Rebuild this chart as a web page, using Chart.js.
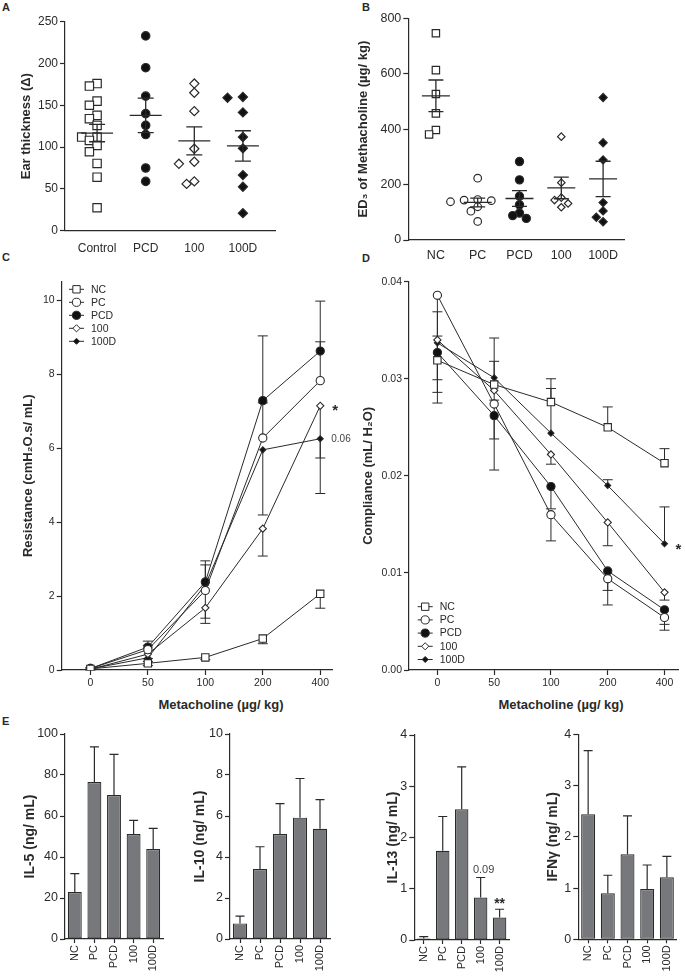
<!DOCTYPE html>
<html>
<head>
<meta charset="utf-8">
<script src="https://cdn.jsdelivr.net/npm/chart.js@4.4.1/dist/chart.umd.min.js"></script>
<style>
  body { margin: 0; background: #fff; width: 685px; height: 979px; position: relative; overflow: hidden; font-family: "Liberation Sans", Arial, sans-serif; }
  canvas { position: absolute; }
  .panel { position: absolute; font-weight: bold; font-size: 11px; line-height: 11px; color: #2a2a2a; }
  .xtitle { position: absolute; font-weight: bold; font-size: 13px; line-height: 13px; color: #2a2a2a; transform: translate(-50%, -50%); white-space: nowrap; }
</style>
</head>
<body>
<div class="panel" style="left:2px;top:2px">A</div>
<div class="panel" style="left:362px;top:2px">B</div>
<div class="panel" style="left:2px;top:252px">C</div>
<div class="panel" style="left:362px;top:253px">D</div>
<div class="panel" style="left:2px;top:716px">E</div>
<div class="xtitle" style="left:221px;top:704px">Metacholine (µg/ kg)</div>
<div class="xtitle" style="left:561px;top:704px">Metacholine (µg/ kg)</div>

<canvas id="chartA"></canvas>
<canvas id="chartB"></canvas>
<canvas id="chartC"></canvas>
<canvas id="chartD"></canvas>
<canvas id="chartE1"></canvas>
<canvas id="chartE2"></canvas>
<canvas id="chartE3"></canvas>
<canvas id="chartE4"></canvas>

<script>
// ---- data ----

// A: ear thickness, individual animals
const earGroups = ['Control', 'PCD', '100', '100D'];
const earControl = [176, 173, 155, 150, 138, 134, 126, 112, 112, 108, 102, 94.5, 80.5, 64, 27.5];
const earPCD = [233, 195, 161, 140, 126, 115, 75, 59];
const ear100 = [176, 165, 143, 98, 82.5, 80, 59, 56];
const ear100D = [160, 159, 141.5, 112, 98.5, 66.5, 52.5, 21];

// B: ED3 of metacholine
const edGroups = ['NC', 'PC', 'PCD', '100', '100D'];
const edNC = [746, 613, 527, 457, 397, 381];
const edPC = [223, 146, 144, 142, 138, 120, 104, 67];
const edPCD = [283, 217, 158, 127, 97, 88, 78];
const ed100 = [373, 207, 153, 144, 132, 118];
const ed100D = [514, 351, 289, 135, 105, 82, 66];

// C / D: metacholine dose response
const doses = ['0', '50', '100', '200', '400'];
const seriesNames = ['NC', 'PC', 'PCD', '100', '100D'];

const resNC = [0.03, 0.18, 0.34, 0.85, 2.06];
const resPC = [0.04, 0.55, 2.15, 6.27, 7.82];
const resPCD = [0.04, 0.62, 2.38, 7.28, 8.62];
const res100 = [0.02, 0.43, 1.68, 3.82, 7.14];
const res100D = [0.03, 0.33, 2.30, 5.95, 6.25];
const resNCErr = [0.02, 0.06, 0.06, 0.14, 0.39];
const resPCErr = [0.02, 0.12, 0.69, 0.95, 1.05];
const resPCDErr = [0.02, 0.16, 0.57, 1.75, 1.35];
const res100Err = [0.02, 0.12, 0.42, 0.74, 1.41];
const res100DErr = [0.02, 0.10, 0.90, 1.76, 1.48];

const compNC = [0.0319, 0.0294, 0.0276, 0.0250, 0.0213];
const compPC = [0.0386, 0.0274, 0.0160, 0.0094, 0.0054];
const compPCD = [0.0327, 0.0262, 0.0189, 0.0102, 0.0062];
const comp100 = [0.0340, 0.0288, 0.0222, 0.0152, 0.0080];
const comp100D = [0.0337, 0.0301, 0.0244, 0.0190, 0.0130];
const compNCErr = [0.0050, 0.0024, 0.0024, 0.0021, 0.0015];
const compPCErr = [0.0111, 0.0068, 0.0027, 0.0027, 0.0013];
const compPCDErr = [0.0028, 0.0024, 0.0023, 0.0020, 0.0015];
const comp100Err = [0.0054, 0.0010, 0.0010, 0.0024, 0.0008];
const comp100DErr = [0.0007, 0.0041, 0.0046, 0.0006, 0.0038];

// E: cytokines
const cytoGroups = ['NC', 'PC', 'PCD', '100', '100D'];
const il5 = [22.9, 76.6, 70.2, 51.2, 43.9];
const il5Err = [9.0, 17.1, 19.9, 6.7, 10.1];
const il10 = [0.76, 3.41, 5.12, 5.92, 5.38];
const il10Err = [0.36, 1.09, 1.48, 1.91, 1.42];
const il13 = [0.03, 1.74, 2.55, 0.83, 0.44];
const il13Err = [0.035, 0.67, 0.83, 0.39, 0.16];
const ifng = [2.44, 0.90, 1.66, 0.98, 1.21];
const ifngErr = [1.24, 0.35, 0.75, 0.47, 0.41];

// ---- styling helpers ----
const INK = '#2a2a2a';
const FONT = '"Liberation Sans", Arial, Helvetica, sans-serif';
const BAR_FILL = '#77787c';

// marker look for the 5 treatment groups (NC, PC, PCD, 100, 100D)
const markStyle = ['rect', 'circle', 'circle', 'rectRot', 'rectRot'];
const markFill = ['#fff', '#fff', '#111', '#fff', '#111'];

function place(id, left, top, w, h) {
    const c = document.getElementById(id);
    c.width = w;
    c.height = h;
    c.style.left = left + 'px';
    c.style.top = top + 'px';
    c.style.width = w + 'px';
    c.style.height = h + 'px';
    return c;
}

function yScale(o) {
    return {
        type: 'linear', position: 'left', min: o.min, max: o.max,
        afterBuildTicks: s => {
            const t = [];
            for (let k = 0; o.min + k * o.step <= o.tickMax + 1e-9; k++) t.push({ value: o.min + k * o.step });
            s.ticks = t;
        },
        afterFit: s => { s.width = o.width; },
        ticks: {
            color: INK, padding: 2, font: { family: FONT, size: o.tick },
            callback: o.fmt || (v => String(Math.round(v * 1000) / 1000))
        },
        grid: { drawOnChartArea: false, drawTicks: true, tickLength: 5, tickColor: INK, tickWidth: 1.2 },
        border: { color: INK, width: 1.2 },
        title: {
            display: true, text: o.title, color: INK,
            font: { family: FONT, size: o.titleSize || 13, weight: 'bold' },
            padding: { top: o.titlePad, bottom: 0 }
        }
    };
}

function xIndexScale(o) {
    return {
        type: 'linear', position: 'bottom', min: o.min, max: o.max,
        afterBuildTicks: s => { s.ticks = o.labels.map((_, i) => ({ value: i })); },
        afterFit: s => { s.height = o.height; },
        ticks: {
            color: INK, padding: o.pad, maxRotation: 0, autoSkip: false,
            font: { family: FONT, size: o.tick },
            callback: v => o.labels[v]
        },
        grid: { drawOnChartArea: false, drawTicks: o.drawTicks, tickLength: 5, tickColor: INK, tickWidth: 1.2 },
        border: { color: INK, width: 1.2 }
    };
}

function xCatScale(o) {
    return {
        type: 'category', position: 'bottom', offset: true,
        afterFit: s => { s.height = o.height; },
        ticks: {
            color: INK, padding: 2, minRotation: 90, maxRotation: 90, autoSkip: false,
            font: { family: FONT, size: 11 }
        },
        grid: { offset: false, drawOnChartArea: false, drawTicks: true, tickLength: 4, tickColor: INK, tickWidth: 1.2 },
        border: { color: INK, width: 1.2 }
    };
}

function drawMarker(ctx, style, r, fill, x, y) {
    ctx.beginPath();
    if (style === 'circle') {
        ctx.arc(x, y, r, 0, Math.PI * 2);
    } else if (style === 'rect') {
        const s = r * Math.SQRT1_2;
        ctx.rect(x - s, y - s, 2 * s, 2 * s);
    } else {
        ctx.moveTo(x - r, y); ctx.lineTo(x, y - r); ctx.lineTo(x + r, y); ctx.lineTo(x, y + r); ctx.closePath();
    }
    ctx.fillStyle = fill;
    ctx.fill();
    ctx.stroke();
}

// mean +/- SEM drawn over the dots (A, B)
function meanSemPlugin(halfMean, halfCap) {
    return {
        id: 'meanSem',
        afterDatasetsDraw(chart) {
            const { ctx, scales: { x, y } } = chart;
            ctx.save();
            ctx.strokeStyle = INK;
            ctx.lineWidth = 1.3;
            chart.data.datasets.forEach((ds, g) => {
                const vals = ds.data.map(p => p.y);
                const n = vals.length;
                const m = vals.reduce((a, b) => a + b, 0) / n;
                const sd = Math.sqrt(vals.reduce((a, b) => a + (b - m) * (b - m), 0) / (n - 1));
                const sem = sd / Math.sqrt(n);
                const cx = x.getPixelForValue(g);
                const ym = y.getPixelForValue(m), y1 = y.getPixelForValue(m + sem), y0 = y.getPixelForValue(m - sem);
                ctx.beginPath();
                ctx.moveTo(cx - halfMean, ym); ctx.lineTo(cx + halfMean, ym);
                ctx.moveTo(cx, y1); ctx.lineTo(cx, y0);
                ctx.moveTo(cx - halfCap, y1); ctx.lineTo(cx + halfCap, y1);
                ctx.moveTo(cx - halfCap, y0); ctx.lineTo(cx + halfCap, y0);
                ctx.stroke();
            });
            ctx.restore();
        }
    };
}

// one-sided SEM bars on the dose-response curves
function lineErrPlugin(errs, dirs) {
    return {
        id: 'lineErr',
        beforeDatasetsDraw(chart) {
            const { ctx, scales: { y } } = chart;
            ctx.save();
            ctx.strokeStyle = INK;
            ctx.lineWidth = 1;
            chart.data.datasets.forEach((ds, i) => {
                chart.getDatasetMeta(i).data.forEach((pt, j) => {
                    const ye = y.getPixelForValue(ds.data[j].y + dirs[i] * errs[i][j]);
                    ctx.beginPath();
                    ctx.moveTo(pt.x, pt.y); ctx.lineTo(pt.x, ye);
                    ctx.moveTo(pt.x - 5, ye); ctx.lineTo(pt.x + 5, ye);
                    ctx.stroke();
                });
            });
            ctx.restore();
        }
    };
}

function barErrPlugin(errs) {
    return {
        id: 'barErr',
        afterDatasetsDraw(chart) {
            const { ctx, scales: { y } } = chart;
            const ds = chart.data.datasets[0];
            ctx.save();
            ctx.strokeStyle = INK;
            ctx.lineWidth = 1.2;
            chart.getDatasetMeta(0).data.forEach((bar, i) => {
                const top = y.getPixelForValue(ds.data[i]);
                const end = y.getPixelForValue(ds.data[i] + errs[i]);
                ctx.beginPath();
                ctx.moveTo(bar.x, top); ctx.lineTo(bar.x, end);
                ctx.moveTo(bar.x - 4.5, end); ctx.lineTo(bar.x + 4.5, end);
                ctx.stroke();
            });
            ctx.restore();
        }
    };
}

// small legend inside the plot (C, D)
function legendPlugin(x0, y0, gap) {
    return {
        id: 'innerLegend',
        afterDraw(chart) {
            const ctx = chart.ctx;
            ctx.save();
            ctx.strokeStyle = INK;
            ctx.lineWidth = 1;
            ctx.font = '10.5px ' + FONT;
            ctx.textBaseline = 'middle';
            chart.data.datasets.forEach((ds, i) => {
                const y = y0 + i * gap;
                ctx.beginPath();
                ctx.moveTo(x0, y); ctx.lineTo(x0 + 15, y);
                ctx.stroke();
                drawMarker(ctx, ds.pointStyle, ds.pointRadius, ds.pointBackgroundColor, x0 + 7.5, y);
                ctx.fillStyle = INK;
                ctx.fillText(ds.label, x0 + 22, y + 0.5);
            });
            ctx.restore();
        }
    };
}

// significance notes anchored to data values
function notesPlugin(notes) {
    return {
        id: 'notes',
        afterDatasetsDraw(chart) {
            const { ctx, scales: { x, y } } = chart;
            ctx.save();
            notes.forEach(n => {
                ctx.font = n.font;
                ctx.fillStyle = n.color || INK;
                ctx.textAlign = n.align || 'center';
                ctx.textBaseline = n.base || 'alphabetic';
                ctx.fillText(n.text, x.getPixelForValue(n.x) + (n.dx || 0), y.getPixelForValue(n.y) + (n.dy || 0));
            });
            ctx.restore();
        }
    };
}

// spread overlapping dots sideways, using the chart's own scales
function swarm(chart, minDist, step) {
    const xs = chart.scales.x, ys = chart.scales.y;
    chart.data.datasets.forEach((ds, g) => {
        const cx = xs.getPixelForValue(g);
        const placed = [];
        const order = ds.data.map((p, i) => i).sort((a, b) => ds.data[b].y - ds.data[a].y);
        order.forEach(i => {
            const p = ds.data[i];
            const py = ys.getPixelForValue(p.y);
            const cands = [0];
            for (let k = 1; k < 8; k++) cands.push(-k * step, k * step);
            let off = 0;
            for (const c of cands) {
                if (placed.every(q => Math.hypot(q.x - (cx + c), q.y - py) >= minDist)) { off = c; break; }
            }
            placed.push({ x: cx + off, y: py });
            p.x = xs.getValueForPixel(cx + off);
        });
    });
    chart.update('none');
}

const baseOptions = (padding) => ({
    responsive: false,
    animation: false,
    devicePixelRatio: 1,
    layout: { padding },
    plugins: { legend: { display: false }, tooltip: { enabled: false } }
});

// ---- A ----
const earSets = [earControl, earPCD, ear100, ear100D];
const earMarks = [[0, 5.9], [2, 4.2], [3, 4.6], [4, 4.6]];
const chartA = new Chart(place('chartA', 0, 0, 290, 262), {
    type: 'scatter',
    data: {
        datasets: earSets.map((vals, g) => ({
            label: earGroups[g],
            data: vals.map(v => ({ x: g, y: v })),
            pointStyle: markStyle[earMarks[g][0]],
            pointRadius: earMarks[g][1],
            pointBackgroundColor: markFill[earMarks[g][0]],
            pointBorderColor: INK,
            pointBorderWidth: 1.2
        }))
    },
    options: {
        ...baseOptions({ left: 0, top: 21.7, right: 15, bottom: 0 }),
        scales: {
            x: xIndexScale({ min: -0.66, max: 3.66, labels: earGroups, height: 31.3, tick: 12, pad: 11, drawTicks: false }),
            y: yScale({ min: 0, max: 250, tickMax: 250, step: 50, width: 65, tick: 12, title: 'Ear thickness (Δ)', titlePad: 18.9 })
        }
    },
    plugins: [meanSemPlugin(16, 8)]
});
swarm(chartA, 8, 7.7);

// ---- B ----
const edSets = [edNC, edPC, edPCD, ed100, ed100D];
const edRadius = [5.2, 3.8, 4.1, 3.7, 4.1];
const chartB = new Chart(place('chartB', 340, 0, 345, 262), {
    type: 'scatter',
    data: {
        datasets: edSets.map((vals, g) => ({
            label: edGroups[g],
            data: vals.map(v => ({ x: g, y: v })),
            pointStyle: markStyle[g],
            pointRadius: edRadius[g],
            pointBackgroundColor: markFill[g],
            pointBorderColor: INK,
            pointBorderWidth: 1.2
        }))
    },
    options: {
        ...baseOptions({ left: 0, top: 18.3, right: 61, bottom: 0 }),
        scales: {
            x: xIndexScale({ min: -0.66, max: 4.5, labels: edGroups, height: 22, tick: 12.5, pad: 8, drawTicks: false }),
            y: yScale({ min: 0, max: 800, tickMax: 800, step: 200, width: 68.3, tick: 12.5, title: 'ED₃ of Methacholine (µg/ kg)', titlePad: 15.5 })
        }
    },
    plugins: [meanSemPlugin(14, 7.5)]
});
swarm(chartB, 7.2, 6.8);

// ---- C / D ----
const lineRadius = [5.2, 4.1, 4.1, 3.6, 3];
function lineSets(seriesVals) {
    return seriesVals.map((vals, i) => ({
        label: seriesNames[i],
        data: vals.map((v, j) => ({ x: j, y: v })),
        showLine: true,
        borderColor: INK,
        borderWidth: 1,
        pointStyle: markStyle[i],
        pointRadius: lineRadius[i],
        pointBackgroundColor: markFill[i],
        pointBorderColor: INK,
        pointBorderWidth: 1.1
    }));
}

new Chart(place('chartC', 0, 270, 360, 425), {
    type: 'scatter',
    data: { datasets: lineSets([resNC, resPC, resPCD, res100, res100D]) },
    options: {
        ...baseOptions({ left: 0, top: 11.5, right: 27.7, bottom: 0 }),
        scales: {
            x: xIndexScale({ min: -0.5, max: 4.21, labels: doses, height: 25, tick: 10.5, pad: 2, drawTicks: true }),
            y: yScale({ min: 0, max: 10.5, tickMax: 10, step: 2, width: 61.7, tick: 10.5, title: 'Resistance (cmH₂O.s/ mL)', titlePad: 20.5 })
        }
    },
    plugins: [
        lineErrPlugin([resNCErr, resPCErr, resPCDErr, res100Err, res100DErr], [-1, 1, 1, -1, -1]),
        legendPlugin(69, 19.3, 13),
        notesPlugin([
            { text: '*', x: 4, y: 7.14, dx: 15, dy: 9, font: 'bold 15px ' + FONT },
            { text: '0.06', x: 4, y: 6.25, dx: 11, dy: 0.5, align: 'left', base: 'middle', color: '#444', font: '10px ' + FONT }
        ])
    ]
});

new Chart(place('chartD', 340, 270, 345, 425), {
    type: 'scatter',
    data: { datasets: lineSets([compNC, compPC, compPCD, comp100, comp100D]) },
    options: {
        ...baseOptions({ left: 0, top: 11.7, right: 5, bottom: 0 }),
        scales: {
            x: xIndexScale({ min: -0.5, max: 4.25, labels: doses, height: 25, tick: 10.5, pad: 2, drawTicks: true }),
            y: yScale({ min: 0, max: 0.04, tickMax: 0.04, step: 0.01, width: 69, tick: 10.5, title: 'Compliance (mL/ H₂O)', titlePad: 20.5, fmt: v => v.toFixed(2) })
        }
    },
    plugins: [
        lineErrPlugin([compNCErr, compPCErr, compPCDErr, comp100Err, comp100DErr], [1, -1, -1, -1, 1]),
        legendPlugin(77.7, 336.7, 13.2),
        notesPlugin([
            { text: '*', x: 4, y: 0.013, dx: 14, dy: 10, font: 'bold 15px ' + FONT }
        ])
    ]
});

// ---- E ----
function barChart(id, left, w, o) {
    return new Chart(place(id, left, 720, w, 259), {
        type: 'bar',
        data: {
            labels: cytoGroups,
            datasets: [{
                data: o.values,
                backgroundColor: BAR_FILL,
                borderColor: INK,
                borderWidth: 1.2,
                borderSkipped: false,
                barPercentage: 0.71,
                categoryPercentage: 1
            }]
        },
        options: {
            ...baseOptions({ left: 0, top: o.top, right: o.right, bottom: 0 }),
            scales: {
                x: xCatScale({ height: o.xh }),
                y: yScale({ min: 0, max: o.max, tickMax: o.max, step: o.step, width: o.width, tick: 12.5, title: o.title, titleSize: 14, titlePad: o.titlePad })
            }
        },
        plugins: [barErrPlugin(o.errs), notesPlugin(o.notes || [])]
    });
}

barChart('chartE1', 0, 170, { values: il5, errs: il5Err, max: 100, step: 20, width: 65, top: 14, right: 7, xh: 40, title: 'IL-5 (ng/ mL)', titlePad: 22 });
barChart('chartE2', 170, 170, { values: il10, errs: il10Err, max: 10, step: 2, width: 60, top: 14, right: 10, xh: 40, title: 'IL-10 (ng/ mL)', titlePad: 22 });
barChart('chartE3', 340, 175, {
    values: il13, errs: il13Err, max: 4, step: 1, width: 74.3, top: 15, right: 2, xh: 39, title: 'IL-13 (ng/ mL)', titlePad: 45,
    notes: [
        { text: '0.09', x: 3, y: 1.22, dx: 3, dy: -4, font: '11px ' + FONT, color: '#444' },
        { text: '**', x: 4, y: 0.60, dx: 0, dy: -1.5, font: 'bold 14px ' + FONT }
    ]
});
barChart('chartE4', 512, 173, { values: ifng, errs: ifngErr, max: 4, step: 1, width: 66.3, top: 14.3, right: 8.3, xh: 39.7, title: 'IFNγ (ng/ mL)', titlePad: 33 });
</script>
</body>
</html>
